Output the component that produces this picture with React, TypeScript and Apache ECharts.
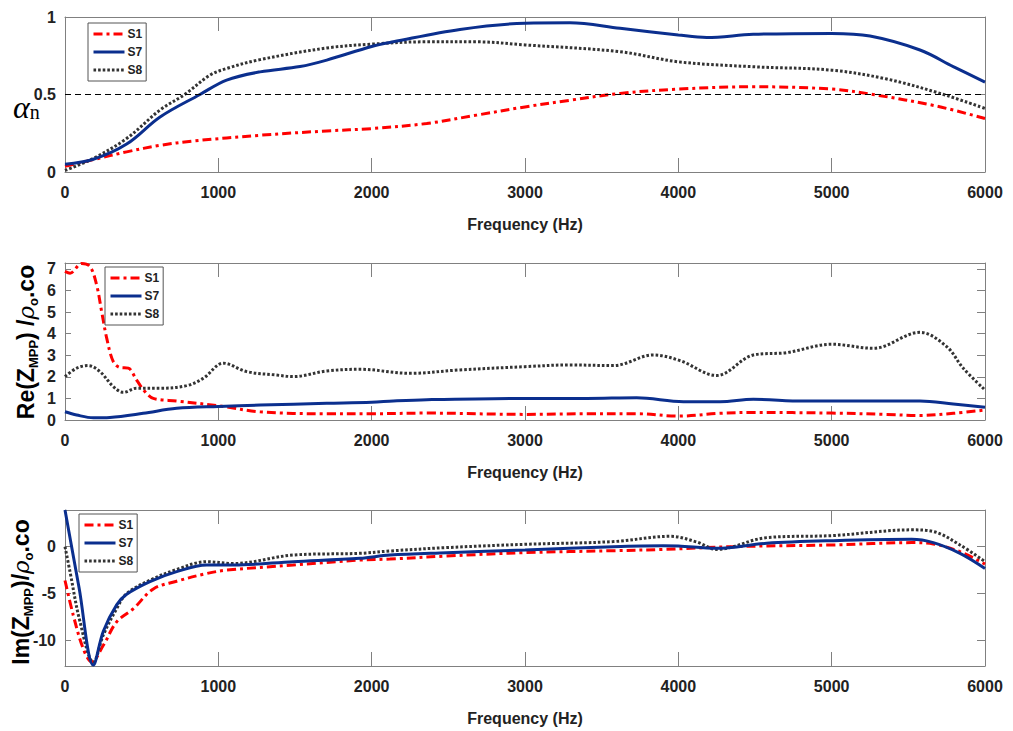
import React, { useEffect, useRef } from "react";
import * as echarts from "echarts";

// ---------- data ----------
const X_TICKS = [0, 1000, 2000, 3000, 4000, 5000, 6000];
const SERIES_NAMES = ["S1", "S7", "S8"];

// Panel 1: absorption coefficient alpha_n
const A_S1_F = [0, 185, 402, 620, 837, 1272, 1707, 2000, 2359, 2685, 3000, 3293, 3620, 4000, 4488, 5000, 5270, 5685, 6000];
const A_S1 = [0.037, 0.08, 0.13, 0.172, 0.2, 0.237, 0.265, 0.28, 0.313, 0.367, 0.42, 0.463, 0.507, 0.535, 0.55, 0.535, 0.5, 0.425, 0.345];
const A_S7_F = [0, 185, 402, 620, 880, 1054, 1272, 1533, 1707, 2000, 2141, 2576, 3000, 3293, 3620, 4000, 4185, 4488, 5000, 5250, 5576, 5793, 6000];
const A_S7 = [0.05, 0.082, 0.18, 0.355, 0.5, 0.593, 0.646, 0.68, 0.722, 0.81, 0.84, 0.92, 0.96, 0.963, 0.927, 0.884, 0.868, 0.888, 0.894, 0.877, 0.787, 0.68, 0.58];
const A_S8_F = [0, 185, 402, 620, 780, 946, 1054, 1272, 1707, 2000, 2359, 2685, 3000, 3620, 4000, 4488, 5000, 5359, 5707, 6000];
const A_S8 = [0.01, 0.088, 0.216, 0.4, 0.5, 0.625, 0.668, 0.725, 0.8, 0.825, 0.84, 0.84, 0.82, 0.776, 0.711, 0.679, 0.657, 0.6, 0.507, 0.41];
const A_REF = 0.5;

// Panel 2: Re(Z_MPP)/rho0.c0
const R_S1_F = [0, 33, 109, 163, 206, 239, 272, 315, 359, 413, 467, 522, 576, 728, 1011, 1272, 1707, 2000, 2359, 3000, 3402, 3728, 4000, 4272, 4489, 5000, 5359, 5576, 5793, 6000];
const R_S1 = [6.88, 6.8, 7.25, 7.11, 6.26, 5.02, 3.79, 2.7, 2.43, 2.4, 1.85, 1.31, 1.0, 0.88, 0.65, 0.38, 0.29, 0.29, 0.32, 0.26, 0.29, 0.29, 0.18, 0.31, 0.35, 0.32, 0.26, 0.21, 0.31, 0.46];
const R_S7_F = [0, 76, 185, 293, 510, 728, 1000, 1272, 1707, 2000, 2141, 2359, 3000, 3402, 3728, 4033, 4272, 4489, 4815, 5141, 5576, 5793, 6000];
const R_S7 = [0.38, 0.23, 0.1, 0.12, 0.31, 0.54, 0.63, 0.69, 0.77, 0.82, 0.88, 0.94, 1.0, 1.0, 1.03, 0.85, 0.85, 0.96, 0.88, 0.88, 0.88, 0.74, 0.59];
const R_S8_F = [0, 76, 152, 228, 315, 380, 467, 620, 793, 902, 1033, 1185, 1380, 1489, 1707, 1924, 2250, 2576, 3000, 3293, 3576, 3837, 4011, 4250, 4489, 4706, 5000, 5272, 5576, 5750, 5858, 6000];
const R_S8 = [2.01, 2.4, 2.52, 2.24, 1.55, 1.28, 1.47, 1.47, 1.59, 1.93, 2.63, 2.24, 2.08, 2.01, 2.27, 2.35, 2.16, 2.32, 2.47, 2.55, 2.52, 3.01, 2.75, 2.06, 3.01, 3.12, 3.51, 3.32, 4.06, 3.4, 2.4, 1.39];

// Panel 3: Im(Z_MPP)/rho0.c0
const I_S1_F = [0, 54, 120, 174, 250, 337, 446, 576, 728, 924, 1054, 1489, 1924, 2119, 2489, 3000, 3576, 3902, 4359, 5011, 5522, 5663, 5837, 6000];
const I_S1 = [-3.6, -7.3, -10.9, -12.25, -10.5, -8.0, -6.6, -4.5, -3.68, -2.86, -2.5, -1.96, -1.43, -1.32, -1.0, -0.64, -0.43, -0.29, 0, 0.18, 0.43, 0.29, -0.54, -1.86];
const I_S7_F = [0, 92, 185, 250, 337, 402, 554, 728, 924, 1098, 1489, 1924, 2119, 2489, 3000, 3576, 3902, 4000, 4250, 4576, 5011, 5522, 5663, 5837, 6000];
const I_S7 = [3.9, -4.4, -12.6, -9.0, -6.2, -5.07, -3.72, -2.66, -1.95, -1.95, -1.6, -1.24, -0.89, -0.64, -0.35, 0, 0.1, 0.07, -0.18, 0.36, 0.64, 0.79, 0.43, -0.71, -2.32];
const I_S8_F = [0, 33, 98, 185, 250, 337, 402, 554, 728, 924, 1098, 1489, 1924, 2119, 2489, 3000, 3576, 3950, 4119, 4250, 4576, 5011, 5522, 5663, 5837, 6000];
const I_S8 = [0, -2.7, -8.0, -12.3, -9.4, -6.6, -5.0, -3.57, -2.43, -1.6, -1.8, -0.89, -0.71, -0.46, -0.1, 0.25, 0.54, 1.1, 0.5, -0.29, 0.96, 1.18, 1.79, 1.61, 0.18, -1.6];

const A_TICKS = [0, 0.5, 1];
const R_TICKS = [0, 1, 2, 3, 4, 5, 6, 7];
const I_TICKS = [-10, -5, 0];

// ---------- styling ----------
const SANS = "'Liberation Sans', Arial, sans-serif";
const SERIF = "'Liberation Serif', 'DejaVu Serif', serif";
const AXIS_GREY = "#808080";
const TEXT = "#222";
const STYLES: Record<string, any> = {
  S1: { color: "#ff0000", lineStyle: { width: 3, type: [9, 4, 3, 4] } },
  S7: { color: "#0b2f8e", lineStyle: { width: 3, type: "solid" } },
  S8: { color: "#333333", lineStyle: { width: 3, type: [2.6, 2] } },
};

const GRIDS = [
  { left: 65, right: 28, top: 17, height: 155 },
  { left: 65, right: 28, top: 263, height: 157 },
  { left: 65, right: 28, top: 510, height: 156 },
];
const LEGEND_POS = [
  { left: 88, top: 23 },
  { left: 105, top: 267 },
  { left: 79, top: 514 },
];

const pairs = (xs: number[], ys: number[]) => xs.map((x, i) => [x, ys[i]]);

export default function App() {
  const ref = useRef<HTMLDivElement>(null);
  useEffect(() => {
    if (!ref.current) return;
    const chart = echarts.init(ref.current, null, { renderer: "svg" });

    const ranges = [
      { min: 0, max: 1, ticks: A_TICKS },
      { min: 0, max: 7.27, ticks: R_TICKS },
      { min: -12.7, max: 3.9, ticks: I_TICKS },
    ];
    const panelData = [
      [pairs(A_S1_F, A_S1), pairs(A_S7_F, A_S7), pairs(A_S8_F, A_S8)],
      [pairs(R_S1_F, R_S1), pairs(R_S7_F, R_S7), pairs(R_S8_F, R_S8)],
      [pairs(I_S1_F, I_S1), pairs(I_S7_F, I_S7), pairs(I_S8_F, I_S8)],
    ];

    const labelFont = { fontSize: 16, fontWeight: "bold", fontFamily: SANS, color: TEXT };
    const xAxis: any[] = [];
    const yAxis: any[] = [];
    const series: any[] = [];
    GRIDS.forEach((_, g) => {
      const r = ranges[g];
      xAxis.push({
        gridIndex: g,
        type: "value",
        min: 0,
        max: 6000,
        interval: 1000,
        position: "bottom",
        axisLine: { show: true, onZero: false, lineStyle: { color: AXIS_GREY, width: 1 } },
        axisTick: { show: true, inside: true, length: 14, lineStyle: { color: AXIS_GREY } },
        axisLabel: {
          ...labelFont,
          margin: 12,
          customValues: X_TICKS,
          formatter: (v: number) => String(v),
        },
        splitLine: { show: false },
        name: "Frequency (Hz)",
        nameLocation: "middle",
        nameGap: 44,
        nameTextStyle: { fontSize: 16, fontWeight: "bold", fontFamily: SANS, color: TEXT },
      });
      xAxis.push({
        gridIndex: g,
        type: "value",
        min: 0,
        max: 6000,
        interval: 1000,
        position: "top",
        axisLine: { show: true, onZero: false, lineStyle: { color: AXIS_GREY, width: 1 } },
        axisTick: { show: true, inside: true, length: 14, lineStyle: { color: AXIS_GREY } },
        axisLabel: { show: false },
        splitLine: { show: false },
      });
      yAxis.push({
        gridIndex: g,
        type: "value",
        min: r.min,
        max: r.max,
        position: "left",
        axisLine: { show: true, onZero: false, lineStyle: { color: AXIS_GREY, width: 1 } },
        axisTick: { show: true, inside: true, length: 6, lineStyle: { color: AXIS_GREY }, customValues: r.ticks },
        axisLabel: { ...labelFont, margin: 9, customValues: r.ticks },
        splitLine: { show: false },
      });
      yAxis.push({
        gridIndex: g,
        type: "value",
        min: r.min,
        max: r.max,
        position: "right",
        axisLine: { show: true, onZero: false, lineStyle: { color: AXIS_GREY, width: 1 } },
        axisTick: { show: true, inside: true, length: 8, lineStyle: { color: AXIS_GREY }, customValues: r.ticks },
        axisLabel: { show: false },
        splitLine: { show: false },
      });
      SERIES_NAMES.forEach((name, k) => {
        const s: any = {
          name,
          type: "line",
          xAxisIndex: g * 2,
          yAxisIndex: g * 2,
          data: panelData[g][k],
          smooth: 0.35,
          symbol: "none",
          showSymbol: false,
          clip: true,
          color: STYLES[name].color,
          lineStyle: { ...STYLES[name].lineStyle, color: STYLES[name].color },
          z: k === 1 ? 3 : 2,
        };
        if (g === 0 && k === 0) {
          s.markLine = {
            silent: true,
            symbol: "none",
            label: { show: false },
            lineStyle: { color: "#000", type: [6, 4], width: 1.2 },
            data: [{ yAxis: A_REF }],
          };
        }
        series.push(s);
      });
    });

    const legends = LEGEND_POS.map((p) => ({
      ...p,
      orient: "vertical",
      data: SERIES_NAMES,
      itemWidth: 31,
      itemHeight: 14,
      itemGap: 6,
      padding: [5, 4, 5, 4],
      borderColor: "#555",
      borderWidth: 1,
      backgroundColor: "#fff",
      selectedMode: false,
      lineStyle: { width: 3 },
      itemStyle: { color: "transparent", borderColor: "transparent", borderWidth: 0, opacity: 0 },
      textStyle: { fontSize: 12, fontWeight: "bold", fontFamily: SANS, color: TEXT, padding: [0, 0, 0, -2] },
    }));

    const sub = { fontSize: 13, fontWeight: "bold", fontFamily: SANS, color: TEXT, verticalAlign: "bottom", lineHeight: 28 };
    const main = { fontSize: 23, fontWeight: "bold", fontFamily: SANS, color: TEXT, lineHeight: 28 };
    const greek = { fontSize: 23, fontStyle: "italic", fontFamily: "'DejaVu Serif', serif", color: TEXT, lineHeight: 28 };

    chart.setOption({
      animation: false,
      backgroundColor: "#fff",
      grid: GRIDS,
      xAxis,
      yAxis,
      series,
      legend: legends,
      graphic: [
        {
          type: "text",
          x: 13,
          y: 107,
          style: {
            text: "{a|α}{b|n}",
            verticalAlign: "middle",
            rich: {
              a: { fontSize: 32, fontStyle: "italic", fontFamily: SERIF, color: TEXT, lineHeight: 30 },
              b: { fontSize: 20, fontFamily: SERIF, color: TEXT, lineHeight: 30, verticalAlign: "bottom" },
            },
          },
        },
        {
          type: "text",
          x: 26,
          y: 342,
          rotation: Math.PI / 2,
          style: {
            text: "{a|Re(Z}{s|MPP}{a|) /}{g|ρ}{s|o}{a|.co}",
            align: "center",
            verticalAlign: "middle",
            rich: { a: main, s: sub, g: greek },
          },
        },
        {
          type: "text",
          x: 21,
          y: 592,
          rotation: Math.PI / 2,
          style: {
            text: "{a|Im(Z}{s|MPP}{a|)/}{g|ρ}{s|o}{a|.co}",
            align: "center",
            verticalAlign: "middle",
            rich: { a: main, s: sub, g: greek },
          },
        },
      ],
    });
    return () => chart.dispose();
  }, []);
  return (
    <div
      ref={ref}
      style={{ position: "absolute", left: 0, top: 0, width: 1013, height: 731, background: "#fff" }}
    />
  );
}
